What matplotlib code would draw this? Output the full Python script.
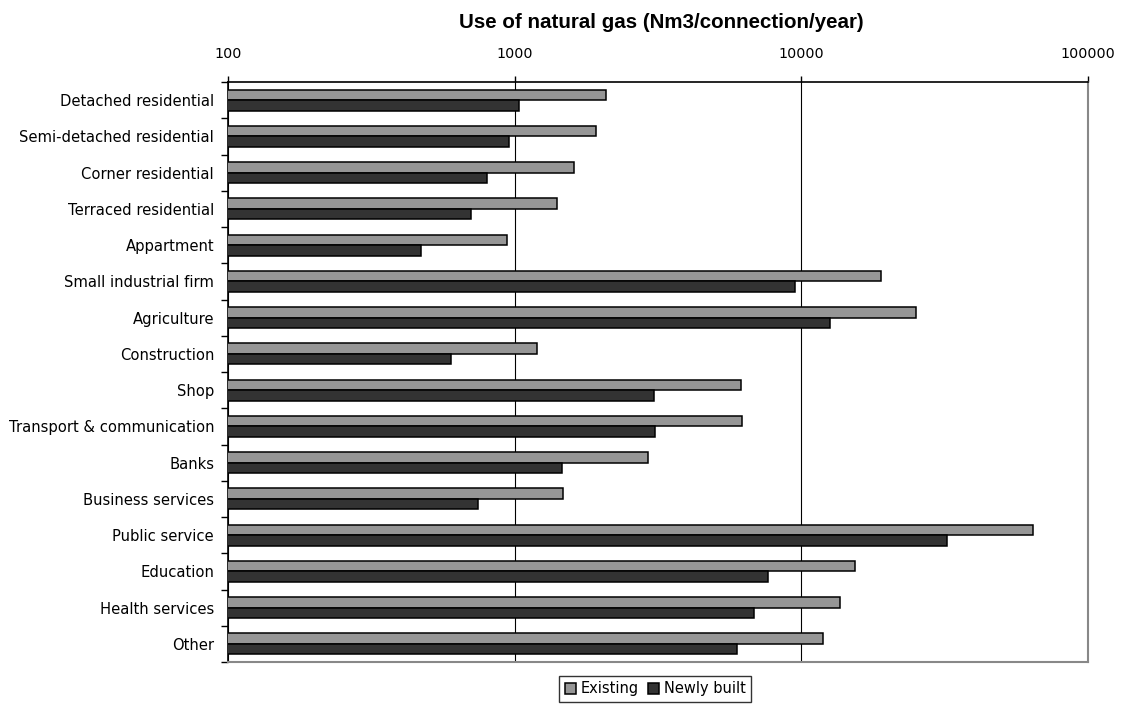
import numpy as np
import matplotlib.pyplot as plt
from matplotlib.ticker import FixedLocator, NullLocator

# categories top to bottom
categories = ["Detached residential", "Semi-detached residential", "Corner residential",
              "Terraced residential", "Appartment", "Small industrial firm", "Agriculture",
              "Construction", "Shop", "Transport & communication", "Banks",
              "Business services", "Public service", "Education", "Health services", "Other"]

# Nm3 per connection per year
existing = [2080, 1920, 1605, 1410, 942, 19000, 25150, 1200, 6150, 6190,
            2910, 1480, 64500, 15350, 13680, 11880]
newly_built = [1035, 955, 800, 705, 470, 9500, 12550, 600, 3070, 3090,
               1460, 742, 32200, 7660, 6830, 5950]

xticks = [100, 1000, 10000, 100000]

plt.rcParams['font.family'] = ['DejaVu Sans']

fig = plt.figure(figsize=(11.21, 7.04), dpi=100)
ax = fig.add_axes([228/1121, 1 - 662/704, 860/1121, 580/704])

y = np.arange(len(categories))
h = 0.29
ax.barh(y - h/2, existing, height=h, left=0, color='#969696', edgecolor='black',
        linewidth=1.1, label='Existing', zorder=3)
ax.barh(y + h/2, newly_built, height=h, left=0, color='#333333', edgecolor='black',
        linewidth=1.1, label='Newly built', zorder=3)

ax.set_xscale('log')
ax.set_xlim(100, 100000)
ax.set_ylim(len(categories) - 0.5, -0.5)
ax.xaxis.set_major_locator(FixedLocator(xticks))
ax.xaxis.set_minor_locator(NullLocator())
ax.set_xticklabels([str(v) for v in xticks])
ax.xaxis.tick_top()
ax.tick_params(axis='x', length=4, width=1, pad=11, labelsize=10.3, colors='black')
ax.grid(axis='x', color='black', linewidth=0.8, zorder=0)

# y ticks sit between categories, labels at centres
ax.set_yticks(y)
ax.set_yticklabels(categories, fontsize=10.6)
ax.tick_params(axis='y', length=0, pad=10)
ax.set_yticks(np.arange(len(categories) + 1) - 0.5, minor=True)
ax.tick_params(axis='y', which='minor', length=5, width=1)

for s in ['left', 'top']:
    ax.spines[s].set_color('black')
    ax.spines[s].set_linewidth(1.2)
for s in ['right', 'bottom']:
    ax.spines[s].set_color('#888888')
    ax.spines[s].set_linewidth(1.5)

fig.text(661/1121, 1 - 22/704, 'Use of natural gas (Nm3/connection/year)', fontsize=14.8,
         fontweight='bold', family='Liberation Sans', ha='center', va='center')

leg = fig.legend(loc='center', bbox_to_anchor=(655/1121, 1 - 689/704), ncol=2,
                 fontsize=10.5, frameon=True, fancybox=False, edgecolor='black',
                 handlelength=0.8, handleheight=0.8, handletextpad=0.3,
                 columnspacing=0.6, borderpad=0.35)
leg.get_frame().set_linewidth(1)

fig.savefig('out.png', dpi=100)
